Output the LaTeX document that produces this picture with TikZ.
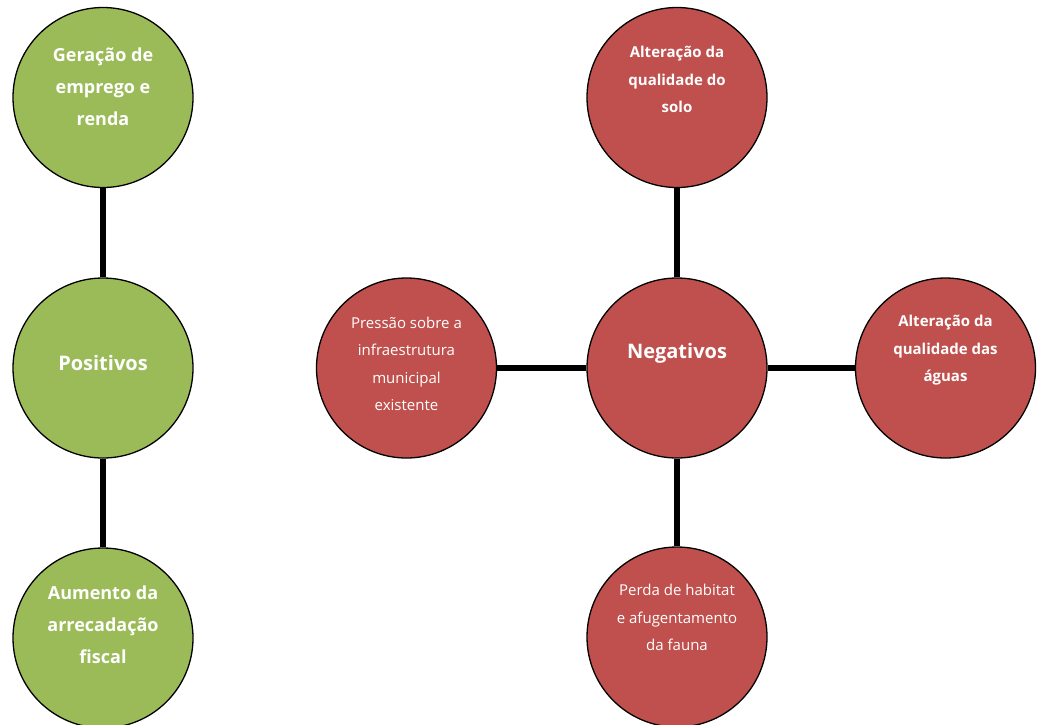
\documentclass[tikz,border=0pt]{standalone}
\usepackage{fontspec}
\setmainfont{Open Sans}
\usepackage{xcolor}
\usepackage{tikz}
\usetikzlibrary{calc}
\definecolor{verde}{HTML}{9BBB59}
\definecolor{vermelho}{HTML}{C0504D}
\tikzset{
	bola/.style={circle, draw=black, line width=1.3pt, minimum size=180pt, inner sep=0pt},
	positivo/.style={bola, fill=verde},
	negativo/.style={bola, fill=vermelho},
	texto/.style={text=white, align=center, inner sep=0pt},
	ligacao/.style={draw=black, line width=5.5pt}
}

\begin{document}
\begin{tikzpicture}[x=1pt, y=-1pt]
	\useasboundingbox (0,0) rectangle (1041,724);

	% positivos
	\node[positivo] (ger) at (103,97.5) {};
	\node[positivo] (pos) at (103,368) {};
	\node[positivo] (aum) at (103,638) {};
	\node[texto, font={\fontsize{18}{32}\selectfont\bfseries}] (ger-t) at ([yshift=11pt]ger) {Geração de\\emprego e\\renda};
	\node[texto, font={\fontsize{20}{24}\selectfont\bfseries}] (pos-t) at ([yshift=5pt]pos) {Positivos};
	\node[texto, font={\fontsize{18}{32}\selectfont\bfseries}] (aum-t) at ([yshift=13pt]aum) {Aumento da\\arrecadação\\fiscal};

	\draw[ligacao] (ger) -- (pos);
	\draw[ligacao] (pos) -- (aum);

	% negativos
	\node[negativo] (neg) at (677,368) {};
	\node[negativo] (solo) at (677,97.5) {};
	\node[negativo] (pres) at (406.5,368) {};
	\node[negativo] (agua) at (945.5,368) {};
	\node[negativo] (fauna) at (677,637) {};
	\node[texto, font={\fontsize{20}{24}\selectfont\bfseries}] (neg-t) at ([yshift=15pt]neg) {Negativos};
	\node[texto, font={\fontsize{15}{27.5}\selectfont\bfseries}] (solo-t) at ([yshift=18pt]solo) {Alteração da\\qualidade do\\solo};
	\node[texto, font={\fontsize{15}{27.5}\selectfont}] (pres-t) at ([yshift=4pt]pres) {Pressão sobre a\\infraestrutura\\municipal\\existente};
	\node[texto, font={\fontsize{15}{27.5}\selectfont\bfseries}] (agua-t) at ([yshift=17.5pt]agua) {Alteração da\\qualidade das\\águas};
	\node[texto, font={\fontsize{15}{27.5}\selectfont}] (fauna-t) at ([yshift=19.5pt]fauna) {Perda de habitat\\e afugentamento\\da fauna};

	\draw[ligacao] (neg) -- (solo);
	\draw[ligacao] (neg) -- (pres);
	\draw[ligacao] (neg) -- (agua);
	\draw[ligacao] (neg) -- (fauna);
\end{tikzpicture}
\end{document}
